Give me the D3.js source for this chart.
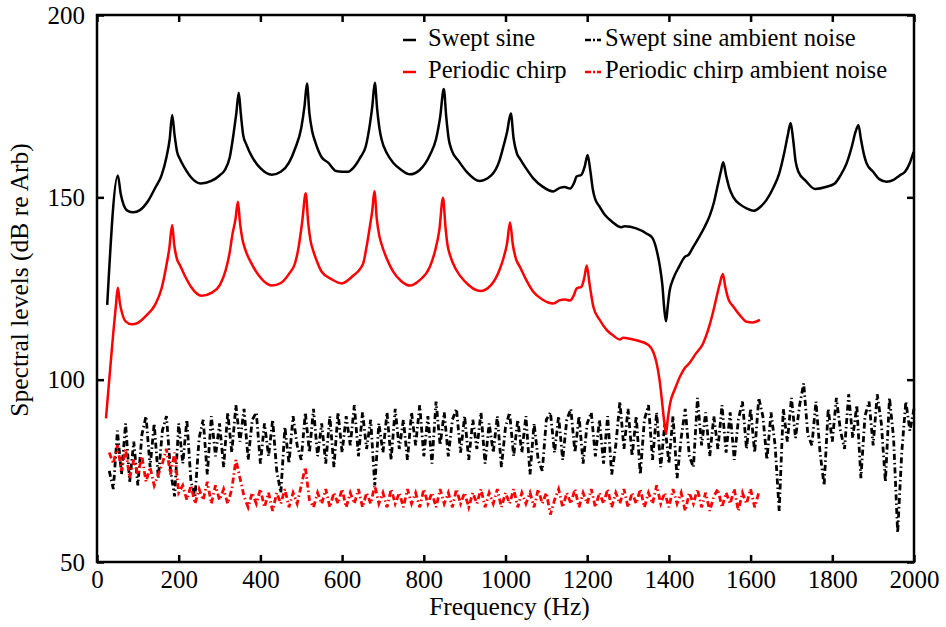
<!DOCTYPE html>
<html>
<head>
<meta charset="utf-8">
<script src="https://cdn.jsdelivr.net/npm/d3@7"></script>
<style>
  body { margin: 0; background: #fff; }
  svg text { font-family: "Liberation Serif", "Times New Roman", Times, serif; }
</style>
</head>
<body>
<div id="target"></div>
<script>
// swept sine response (dB re Arb)
const sweptFreq = [25, 51, 58, 65, 75, 89, 105, 125, 142, 158, 170, 178, 184, 190, 196, 203, 215, 230, 254, 280,
  300, 313, 325, 335, 341, 347, 352, 358, 366, 380, 400, 428, 450, 470, 485, 500, 508, 514, 520, 527,
  534, 550, 566, 585, 600, 615, 627, 645, 658, 668, 674, 680, 686, 692, 697, 710, 725, 745, 766, 790,
  815, 830, 840, 849, 855, 861, 868, 885, 905, 937, 965, 985, 995, 1004, 1013, 1020, 1028, 1036, 1050, 1068,
  1090, 1117, 1133, 1145, 1158, 1168, 1174, 1186, 1194, 1201, 1208, 1214, 1219, 1230, 1243, 1260, 1284, 1292, 1320, 1345,
  1360, 1370, 1378, 1384, 1389, 1393, 1397, 1402, 1410, 1425, 1439, 1448, 1460, 1475, 1488, 1500, 1510, 1520, 1527, 1533,
  1540, 1548, 1558, 1575, 1590, 1607, 1625, 1639, 1655, 1670, 1682, 1691, 1698, 1704, 1710, 1717, 1735, 1758, 1786, 1806,
  1820, 1835, 1848, 1857, 1864, 1870, 1878, 1884, 1900, 1915, 1933, 1950, 1965, 1978, 1990, 1999];
const sweptLevel = [120.5, 156, 151, 148, 146.3, 145.9, 146.5, 149, 152.5, 156, 161, 166, 172.6, 167, 162.5, 160.5, 158, 155.5, 153.8, 154.5,
  156, 157.5, 161, 168, 173, 178.7, 173, 167, 164.4, 161, 158, 156.2, 157, 159.5, 163.4, 169, 175, 181.2, 173, 168,
  165.3, 161, 159.5, 157.2, 157, 157, 158, 161, 164, 170, 175, 181.4, 174, 168.5, 165.7, 162, 159.5, 157.5, 156.3, 157.5,
  161.6, 166, 172, 179.7, 172, 166, 163, 160, 157, 154.5, 156, 160, 164, 168, 173, 166, 162, 160.5, 158, 155.2,
  153, 151.6, 152.6, 152.8, 152.4, 154, 155.7, 156.2, 158.5, 161.6, 157, 152, 149.7, 147.5, 145.2, 143.4, 141.8, 142.1, 141.5, 140.1,
  138.8, 135.5, 131, 126, 119, 116, 120, 124.5, 127.5, 131, 133.7, 134.2, 136.5, 139.3, 142, 145, 148.5, 153.5, 157, 159.6,
  156, 152.5, 150, 148, 147, 146.3, 147.5, 149.3, 152.5, 156.5, 162, 167, 170.4, 166, 160, 157, 154.5, 152.3, 152.9, 153.8,
  156, 159.3, 164, 168, 169.8, 166, 161.5, 159.3, 157, 155, 154.3, 154.8, 156, 157, 159.5, 162.5];

// periodic chirp response
const chirpFreq = [22, 30, 40, 46, 51, 56, 62, 70, 85, 100, 120, 142, 158, 170, 177, 184, 189, 196, 203, 215,
  230, 256, 280, 301, 315, 325, 331, 339, 345, 350, 356, 362, 380, 400, 428, 450, 470, 485, 493, 502,
  511, 517, 523, 530, 540, 550, 575, 599, 627, 645, 652, 660, 668, 674, 679, 685, 691, 697, 710, 725,
  745, 766, 790, 815, 828, 838, 847, 853, 858, 864, 880, 900, 938, 965, 985, 995, 1004, 1011, 1018, 1026,
  1035, 1050, 1068, 1090, 1117, 1133, 1145, 1158, 1168, 1174, 1186, 1193, 1199, 1206, 1211, 1215, 1230, 1248, 1265, 1280,
  1288, 1320, 1350, 1362, 1370, 1377, 1382, 1388, 1393, 1397, 1403, 1415, 1430, 1439, 1450, 1465, 1484, 1497, 1508, 1517,
  1525, 1532, 1538, 1546, 1558, 1575, 1590, 1605, 1623];
const chirpLevel = [89.4, 100, 113, 120, 125.2, 121, 118, 116, 115.2, 115.6, 117.5, 120.5, 125, 131.4, 136, 142.4, 137, 133, 131.4, 128.5,
  125.5, 123, 123.8, 126, 130, 135, 139.5, 144, 148.8, 143, 138.5, 136, 131.5, 128, 125.8, 126.5, 129, 132, 136, 143,
  151.1, 143, 138, 135.1, 132, 129.6, 127.5, 126.4, 128.5, 130.5, 132, 136.5, 142, 146.5, 151.7, 144, 139.5, 137, 133, 129.6,
  127, 125.8, 127.3, 131, 135.5, 141, 149.9, 142, 137, 134.2, 130, 127, 124.3, 126, 130, 133.3, 137.5, 143.1, 137, 133,
  131, 127.5, 124.1, 122, 120.9, 121.8, 122, 121.7, 123.3, 125, 125.5, 128, 131.3, 126, 122.5, 120, 116.5, 113.6, 112, 111,
  111.5, 110.8, 109.5, 107.5, 104.5, 100, 95.3, 89, 85.3, 89, 93.5, 97.5, 101.5, 103.2, 104.5, 107, 110, 114, 118.5, 122.8,
  126.5, 129, 125.5, 122, 120, 117.5, 115.9, 115.7, 116.4];

// ambient noise, 10 Hz steps
const sweptNoiseStart = 30;
const sweptNoise = [75, 70, 86, 74, 88, 72, 83, 71, 85, 90,
  76, 88, 73, 86, 90, 75, 68, 88, 77, 89,
  72, 68, 84, 89, 74, 90, 79, 88, 76, 91,
  80, 93, 83, 92, 78, 89, 91, 77, 88, 79,
  89, 75, 69, 87, 77, 90, 82, 78, 91, 80,
  92, 79, 88, 77, 90, 76, 91, 80, 90, 82,
  93, 79, 91, 81, 89, 71, 88, 80, 91, 78,
  92, 81, 89, 78, 91, 82, 93, 79, 90, 77,
  94, 82, 91, 79, 89, 92, 80, 90, 78, 89,
  81, 91, 77, 88, 80, 90, 76, 87, 91, 79,
  89, 80, 90, 74, 88, 78, 75, 89, 91, 80,
  90, 78, 89, 92, 80, 90, 77, 88, 91, 79,
  89, 77, 90, 74, 82, 94, 81, 92, 79, 90,
  74, 89, 93, 78, 91, 76, 88, 77, 90, 73,
  84, 92, 79, 76, 95, 82, 91, 79, 90, 81,
  93, 80, 91, 78, 89, 94, 81, 92, 80, 95,
  90, 78, 91, 82, 64, 92, 83, 95, 84, 93,
  99, 85, 82, 94, 80, 71, 92, 83, 95, 86,
  81, 96, 84, 93, 73, 90, 94, 82, 96, 88,
  72, 95, 84, 58, 80, 94, 86, 92];
const chirpNoiseStart = 30;
const chirpNoise = [80, 77, 82, 75, 81, 73, 78, 74, 79, 72,
  76, 71, 74, 77, 81, 74, 80, 69, 71, 67,
  71, 66, 70, 67, 72, 66, 71, 67, 70, 66,
  70, 78, 73, 68, 65, 69, 66, 70, 65, 69,
  64, 69, 66, 70, 65, 69, 66, 71, 76, 67,
  65, 69, 66, 70, 65, 69, 66, 70, 65, 69,
  66, 70, 65, 69, 66, 71, 66, 69, 65, 70,
  66, 69, 65, 70, 66, 69, 65, 70, 66, 69,
  65, 70, 66, 69, 65, 70, 66, 69, 65, 69,
  66, 70, 65, 69, 66, 70, 65, 69, 66, 70,
  65, 69, 66, 69, 65, 70, 66, 69, 63, 67,
  70, 65, 69, 66, 70, 65, 69, 66, 70, 65,
  69, 66, 70, 65, 69, 66, 70, 65, 69, 66,
  70, 65, 69, 66, 71, 66, 69, 65, 70, 66,
  69, 64, 69, 66, 70, 65, 69, 64, 68, 70,
  65, 69, 66, 70, 64, 69, 66, 70, 65, 69];

const xTicks = [0, 200, 400, 600, 800, 1000, 1200, 1400, 1600, 1800, 2000];
const yTicks = [50, 100, 150, 200];

const margin = {top: 15, right: 32, bottom: 65, left: 97},
  width = 946 - margin.left - margin.right,
  height = 627 - margin.top - margin.bottom;

let svg = d3.select("#target").append("svg")
  .attr("width", width + margin.left + margin.right)
  .attr("height", height + margin.top + margin.bottom)
  .attr("font-family", '"Liberation Serif", "Times New Roman", serif');

let x = d3.scaleLinear().domain([0, 2000]).range([0, width]);
let y = d3.scaleLinear().domain([50, 200]).range([height, 0]);

let g = svg.append("g").attr("transform", `translate(${margin.left},${margin.top})`);

const smooth = d3.line()
  .x(d => x(d[0]))
  .y(d => y(d[1]))
  .curve(d3.curveMonotoneX);
const jagged = d3.line()
  .x(d => x(d[0]))
  .y(d => y(d[1]));

let sweptNoiseData = sweptNoise.map((v, i) => [sweptNoiseStart + i * 10, v]);
let chirpNoiseData = chirpNoise.map((v, i) => [chirpNoiseStart + i * 10, v]);

// noise lines first so the responses sit on top
g.append("path").datum(sweptNoiseData)
  .attr("d", jagged).attr("fill", "none").attr("stroke", "#000")
  .attr("stroke-width", 2.8).attr("stroke-dasharray", "6,3,1.5,3");
g.append("path").datum(chirpNoiseData)
  .attr("d", jagged).attr("fill", "none").attr("stroke", "#f00")
  .attr("stroke-width", 2.8).attr("stroke-dasharray", "6,3,1.5,3");

g.append("path").datum(sweptFreq.map((f, i) => [f, sweptLevel[i]]))
  .attr("d", smooth).attr("fill", "none").attr("stroke", "#000").attr("stroke-width", 2.5);
g.append("path").datum(chirpFreq.map((f, i) => [f, chirpLevel[i]]))
  .attr("d", smooth).attr("fill", "none").attr("stroke", "#f00").attr("stroke-width", 2.5);

// axes, ticks pointing inward on all sides
g.append("g").attr("transform", "translate(0," + height + ")")
  .call(d3.axisBottom(x).tickValues(xTicks).tickFormat(d3.format("d"))
    .tickSizeInner(-7).tickSizeOuter(0).tickPadding(8))
  .call(a => a.select(".domain").remove());
g.append("g")
  .call(d3.axisTop(x).tickValues(xTicks).tickSizeInner(-7).tickSizeOuter(0).tickFormat(""))
  .call(a => a.select(".domain").remove());
g.append("g")
  .call(d3.axisLeft(y).tickValues(yTicks).tickSizeInner(-7).tickSizeOuter(0).tickPadding(12))
  .call(a => a.select(".domain").remove());
g.append("g").attr("transform", "translate(" + width + ",0)")
  .call(d3.axisRight(y).tickValues(yTicks).tickSizeInner(-7).tickSizeOuter(0).tickFormat(""))
  .call(a => a.select(".domain").remove());

g.selectAll(".tick line").attr("stroke", "#000").attr("stroke-width", 2.5);
g.selectAll(".tick text").attr("font-size", 25).attr("fill", "#000");

g.append("rect").attr("width", width).attr("height", height)
  .attr("fill", "none").attr("stroke", "#000").attr("stroke-width", 2.5);

// axis titles
svg.append("text").attr("x", margin.left + width / 2 + 4).attr("y", 615)
  .attr("text-anchor", "middle").attr("font-size", 25.5).text("Frequency (Hz)");
svg.append("text").attr("transform", "translate(28,280) rotate(-90)")
  .attr("text-anchor", "middle").attr("font-size", 25.5).text("Spectral levels (dB re Arb)");

// legend
const legendItems = [
  {label: "Swept sine", color: "#000", dash: null, lx: 403, row: 0},
  {label: "Periodic chirp", color: "#f00", dash: null, lx: 403, row: 1},
  {label: "Swept sine ambient noise", color: "#000", dash: "6,2,2,2", lx: 585, row: 0},
  {label: "Periodic chirp ambient noise", color: "#f00", dash: "6,2,2,2", lx: 585, row: 1}
];
let legend = svg.append("g");
legendItems.forEach(function (d) {
  let yy = 40 + d.row * 32;
  legend.append("line")
    .attr("x1", d.lx).attr("x2", d.lx + (d.dash ? 16 : 13))
    .attr("y1", yy).attr("y2", yy)
    .attr("stroke", d.color).attr("stroke-width", 2.5)
    .attr("stroke-dasharray", d.dash);
  legend.append("text")
    .attr("x", d.lx + (d.dash ? 20 : 25)).attr("y", yy + 6)
    .attr("font-size", 24.6).text(d.label);
});
</script>
</body>
</html>
